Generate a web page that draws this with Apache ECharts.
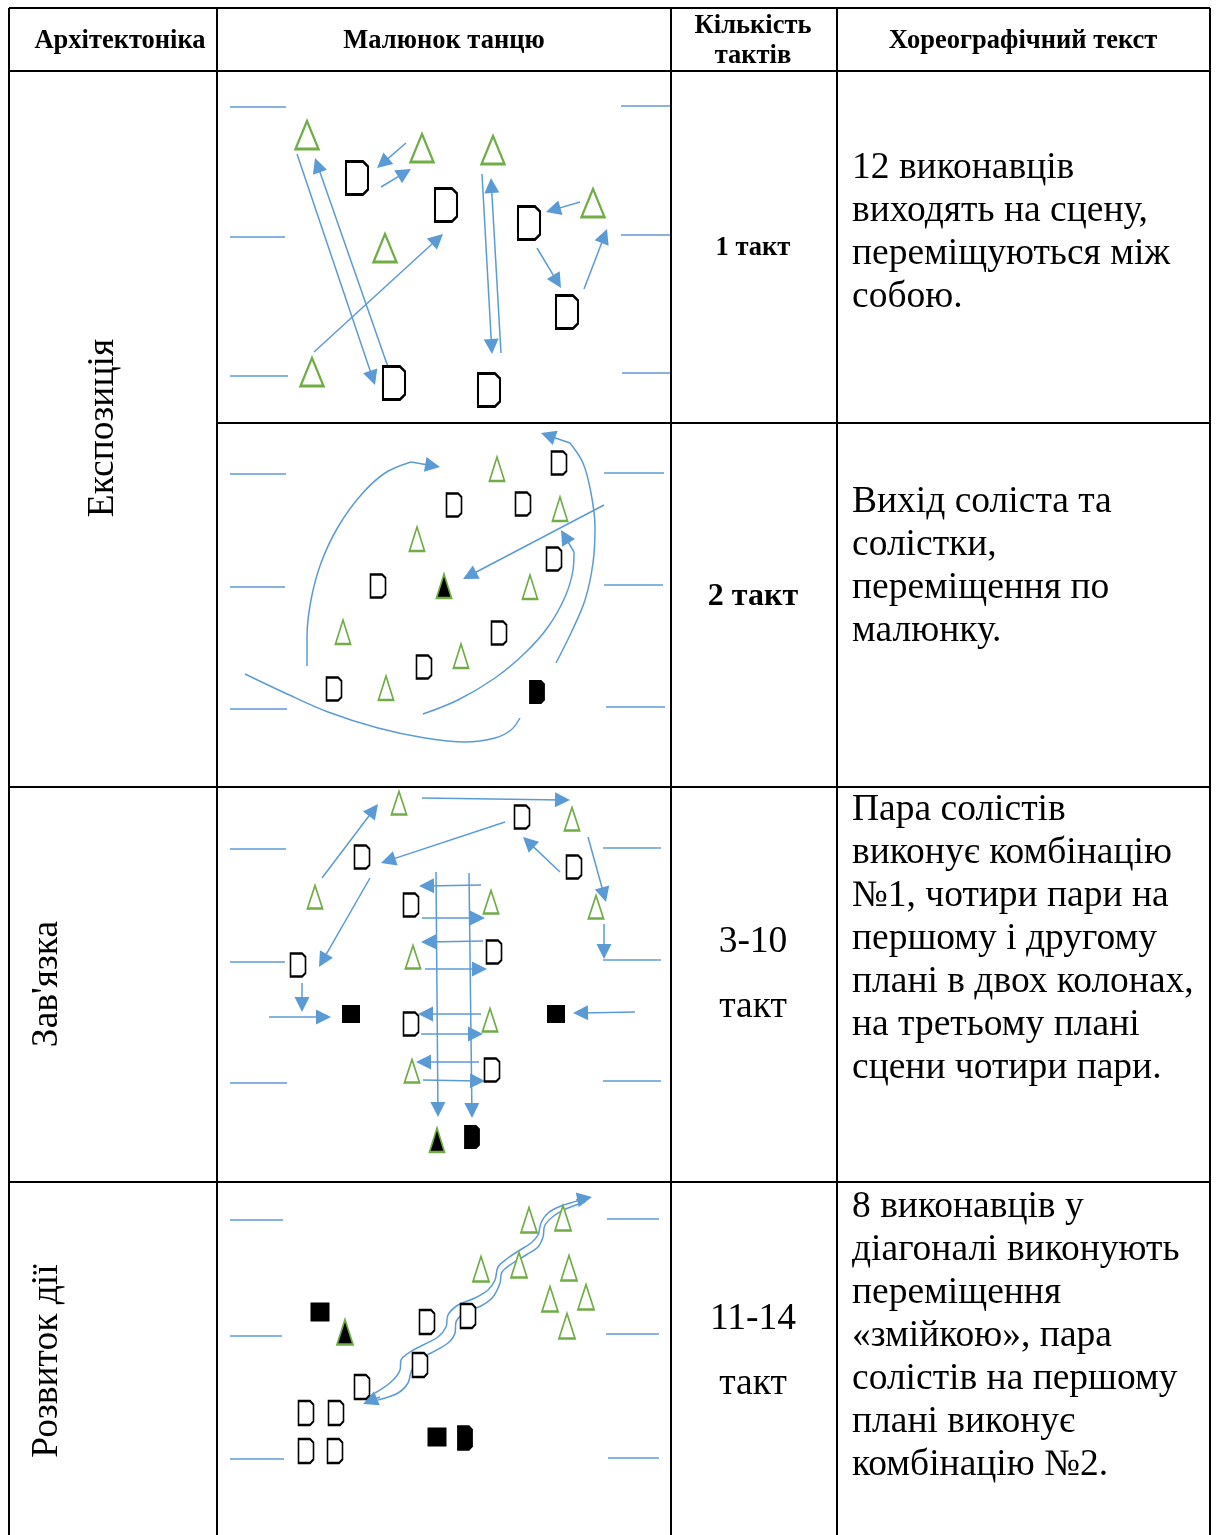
<!DOCTYPE html>
<html><head><meta charset="utf-8">
<script src="https://cdn.jsdelivr.net/npm/echarts@6/dist/echarts.min.js"></script>
<style>html,body{margin:0;padding:0;background:#fff}#main{width:1216px;height:1535px}</style>
</head><body><div id="main"></div>
<script>
// ---------- text content ----------
const headers = ['Архітектоніка', 'Малюнок танцю', 'Кількість\nтактів', 'Хореографічний текст'];
const sections = ['Експозиція', "Зав'язка", 'Розвиток дії'];
const bars = ['1 такт', '2 такт', '3-10\nтакт', '11-14\nтакт'];
const descriptions = [
  ['12 виконавців', 'виходять на сцену,', 'переміщуються між', 'собою.'],
  ['Вихід соліста та', 'солістки,', 'переміщення по', 'малюнку.'],
  ['Пара солістів', 'виконує комбінацію', '№1, чотири пари на', 'першому і другому', 'плані в двох колонах,', 'на третьому плані', 'сцени чотири пари.'],
  ['8 виконавців у', 'діагоналі виконують', 'переміщення', '«змійкою», пара', 'солістів на першому', 'плані виконує', 'комбінацію №2.']
];

// ---------- stage diagram data (stage coordinates) ----------
// cell 1
const c1Girls = [[307,135],[422,148],[493,150],[385,248],[593,203],[312,372]];
const c1Boys = [[357,178],[446,205],[529,223],[567,312],[394,383],[489,390]];
const c1Moves = [
  [[297,154],[375,385]], [[388,367],[315,158]], [[406,143],[377,168]], [[381,187],[411,169]],
  [[314,352],[443,234]], [[482,174],[492,354]], [[501,353],[491,178]], [[580,202],[546,212]],
  [[537,248],[561,288]], [[584,289],[607,229]]
];
const c1Wings = [[230,286,107],[230,285,237],[230,288,376],[621,670,106],[621,670,235],[622,670,373]];

// cell 2
const c2Girls = [[497,469],[560,509],[417,539],[530,587],[343,632],[461,656],[386,688]];
const c2Boys = [[559,463],[454,505],[523,504],[554,559],[378,586],[499,633],[424,667],[334,689]];
const c2SoloGirl = [[444,586]];
const c2SoloBoy = [[537,692]];
const c2Moves = [[[604,505],[463,579]]];
const c2Paths = [
  [[307,666],[307,637],[311,600],[321,563],[338,527],[361,495],[385,473],[411,462],[440,467]],
  [[423,714],[458,700],[495,678],[525,653],[548,627],[565,597],[573,570],[574,552],[561,530]],
  [[556,663],[571,633],[585,600],[593,563],[595,527],[591,493],[583,463],[570,443],[541,433]]
];
const c2OpenPaths = [
  [[245,674],[285,693],[328,712],[378,728],[425,738],[465,742],[495,738],[511,730],[520,718]]
];
const c2Wings = [[230,286,474],[230,285,587],[230,287,709],[604,664,473],[604,663,585],[606,665,707]];

// cell 3
const c3Girls = [[399,803],[572,819],[315,897],[491,902],[596,907],[413,957],[490,1020],[412,1071]];
const c3Boys = [[522,817],[362,857],[574,867],[411,905],[494,952],[298,965],[411,1024],[492,1070]];
const c3SoloGirl = [[437,1140]];
const c3SoloBoy = [[472,1137]];
const c3Pairs = [[351,1014],[556,1014]];
const c3Moves = [
  [[322,878],[378,804]], [[422,798],[570,800]], [[505,822],[381,863]], [[560,872],[523,837]],
  [[588,837],[606,902]], [[604,924],[604,959]], [[370,878],[319,967]], [[302,983],[302,1012]],
  [[269,1017],[331,1017]], [[635,1012],[573,1013]], [[436,872],[438,1117]], [[469,873],[472,1118]],
  [[481,885],[419,886]], [[422,918],[485,918]], [[483,941],[421,942]], [[425,969],[487,969]],
  [[481,1014],[418,1014]], [[421,1034],[483,1034]], [[479,1062],[416,1062]], [[423,1080],[485,1081]]
];
const c3Wings = [[230,286,849],[230,285,962],[230,287,1083],[603,661,848],[603,661,960],[603,661,1081]];

// cell 4
const c4Girls = [[529,1220],[563,1218],[481,1269],[519,1265],[569,1268],[550,1299],[586,1297],[567,1326]];
const c4Boys = [[427,1322],[468,1316],[420,1365],[362,1387],[306,1413],[336,1413],[306,1451],[335,1451]];
const c4SoloGirl = [[345,1332]];
const c4SoloBoy = [[465,1438]];
const c4Pairs = [[320,1312],[437,1437]];
const c4Snake = [
  [[375,1393],[391,1382],[400,1370],[401,1360],[410,1352],[423,1345],[438,1337],[446,1327],[448,1315],[458,1305],[475,1298],[488,1290],[495,1280],[498,1267],[508,1258],[520,1250],[531,1243],[538,1235],[541,1223],[548,1213],[561,1206],[581,1200]],
  [[378,1400],[398,1393],[408,1383],[411,1372],[418,1360],[431,1353],[448,1343],[455,1333],[456,1322],[466,1312],[481,1306],[493,1297],[500,1283],[502,1272],[513,1263],[526,1255],[538,1247],[543,1237],[545,1225],[555,1215],[568,1208],[585,1202]]
];
const c4Moves = [[[380,1397],[363,1404]], [[576,1200],[592,1197]]];
const c4Wings = [[230,283,1220],[230,282,1336],[230,284,1459],[607,659,1219],[606,659,1334],[608,659,1458]];

// ---------- layout (table frame) ----------
const X = {left: 9, c1: 217, c2: 671, c3: 837, right: 1210};
const Y = {top: 8, head: 71, r1: 423, r2: 787, r3: 1182, bottom: 1535};

const BLUE = '#5B9BD5', GREEN = '#70AD47';
const SERIF = '"Liberation Serif", "Times New Roman", serif';
const BOY = 'path://M0,0 L17,0 L22,5 L22,28 L17,33 L0,33 Z';

function arrows(list, head) {
  return list.map(function (seg) {
    const a = seg[0], b = seg[1];
    const dx = b[0] - a[0], dy = b[1] - a[1], L = Math.hypot(dx, dy), k = (head / 2) / L;
    return {coords: [a, [b[0] - dx * k, b[1] - dy * k]]};
  });
}
function pathArrows(paths, head) {
  return arrows(paths.map(function (p) { return [p[p.length - 2], p[p.length - 1]]; }), head);
}
function wings(list) { return list.map(function (w) { return {coords: [[w[0], w[2]], [w[1], w[2]]]}; }); }

const rules = [
  [[X.left, Y.top], [X.right, Y.top]], [[X.left, Y.head], [X.right, Y.head]],
  [[X.c1, Y.r1], [X.right, Y.r1]], [[X.left, Y.r2], [X.right, Y.r2]], [[X.left, Y.r3], [X.right, Y.r3]],
  [[X.left, Y.top], [X.left, Y.bottom]], [[X.c1, Y.top], [X.c1, Y.bottom]],
  [[X.c2, Y.top], [X.c2, Y.bottom]], [[X.c3, Y.top], [X.c3, Y.bottom]], [[X.right, Y.top], [X.right, Y.bottom]]
].map(function (r) { return {coords: r}; });

const series = [];
series.push({type: 'lines', coordinateSystem: 'cartesian2d', z: 1, silent: true, symbol: 'none',
  lineStyle: {color: '#000', width: 2, opacity: 1}, data: rules});
series.push({type: 'lines', coordinateSystem: 'cartesian2d', z: 2, silent: true, symbol: 'none',
  lineStyle: {color: BLUE, width: 1.5, opacity: 1},
  data: [].concat(wings(c1Wings), wings(c2Wings), wings(c3Wings), wings(c4Wings))});
function arrowSeries(data, size) {
  return {type: 'lines', coordinateSystem: 'cartesian2d', z: 3, silent: true,
    symbol: ['none', 'triangle'], symbolSize: size,
    itemStyle: {color: BLUE}, lineStyle: {color: BLUE, width: 1.5, opacity: 1}, data: data};
}
series.push(arrowSeries(arrows(c1Moves, 15), 15));
series.push(arrowSeries(arrows(c2Moves, 15), 15));
series.push(arrowSeries(pathArrows(c2Paths, 15), 15));
series.push(arrowSeries(arrows(c3Moves, 15), 15));
series.push(arrowSeries(arrows(c4Moves, 15), 15));
function curve(pts, isFull) {
  return {type: 'line', data: isFull ? pts : pts.slice(0, pts.length - 1), smooth: 0.35, symbol: 'none',
    showSymbol: false, z: 3, silent: true, lineStyle: {color: BLUE, width: 1.5}};
}
c2Paths.forEach(function (p) { series.push(curve(p, false)); });
c2OpenPaths.forEach(function (p) { series.push(curve(p, true)); });
c4Snake.forEach(function (p) { series.push(curve(p, true)); });

function marks(data, symbol, size, fill, border, bw) {
  return {type: 'scatter', data: data, symbol: symbol, symbolSize: size, z: 5, silent: true,
    itemStyle: {color: fill, borderColor: border, borderWidth: bw, opacity: 1}};
}
series.push(marks(c1Girls, 'triangle', [23, 28], '#fff', GREEN, 2.5));
series.push(marks(c1Boys, BOY, [22, 33], '#fff', '#000', 2.5));
series.push(marks(c2Girls, 'triangle', [15, 24], '#fff', GREEN, 2));
series.push(marks(c2Boys, BOY, [15, 23], '#fff', '#000', 2));
series.push(marks(c2SoloGirl, 'triangle', [15, 24], '#000', GREEN, 2));
series.push(marks(c2SoloBoy, BOY, [15, 23], '#000', '#000', 1));
series.push(marks(c3Girls, 'triangle', [15, 23], '#fff', GREEN, 2));
series.push(marks(c3Boys, BOY, [15, 23], '#fff', '#000', 2));
series.push(marks(c3SoloGirl, 'triangle', [15, 24], '#000', GREEN, 2));
series.push(marks(c3SoloBoy, BOY, [15, 23], '#000', '#000', 1));
series.push(marks(c3Pairs, 'rect', 18, '#000', '#000', 0));
series.push(marks(c4Girls, 'triangle', [16, 25], '#fff', GREEN, 2));
series.push(marks(c4Boys, BOY, [15, 24], '#fff', '#000', 2));
series.push(marks(c4SoloGirl, 'triangle', [16, 25], '#000', GREEN, 2));
series.push(marks(c4SoloBoy, BOY, [15, 24], '#000', '#000', 1));
series.push(marks(c4Pairs, 'rect', 19, '#000', '#000', 0));

// ---------- text ----------
const graphic = [];
const headPos = [[120, 41], [444, 41], [753, 41], [1023, 41]];
headers.forEach(function (t, i) {
  graphic.push({type: 'text', x: headPos[i][0], y: headPos[i][1], silent: true,
    style: {text: t, font: 'bold 26.5px ' + SERIF, fill: '#000', align: 'center', verticalAlign: 'middle', lineHeight: 30}});
});
const secPos = [[103, 428], [47, 984], [47, 1361]];
sections.forEach(function (t, i) {
  graphic.push({type: 'text', x: secPos[i][0], y: secPos[i][1], rotation: Math.PI / 2, silent: true,
    style: {text: t, font: '37.5px ' + SERIF, fill: '#000', align: 'center', verticalAlign: 'middle'}});
});
const barPos = [[753, 248], [753, 597], [753, 975], [753, 1352]];
const barFont = ['bold 26.5px ', 'bold 32px ', '37.5px ', '37.5px '];
bars.forEach(function (t, i) {
  graphic.push({type: 'text', x: barPos[i][0], y: barPos[i][1], silent: true,
    style: {text: t, font: barFont[i] + SERIF, fill: '#000', align: 'center', verticalAlign: 'middle', lineHeight: 65}});
});
const descTop = [168, 502, 810, 1207];
descriptions.forEach(function (lines, i) {
  graphic.push({type: 'text', x: 852, y: descTop[i] - 21.5, silent: true,
    style: {text: lines.join('\n'), font: '37.5px ' + SERIF, fill: '#000', align: 'left', verticalAlign: 'top', lineHeight: 43}});
});

const chart = echarts.init(document.getElementById('main'), null, {renderer: 'canvas'});
chart.setOption({
  animation: false,
  backgroundColor: '#fff',
  grid: {left: 0, right: 0, top: 0, bottom: 0, containLabel: false},
  xAxis: {type: 'value', min: 0, max: 1216, show: false},
  yAxis: {type: 'value', min: 0, max: 1535, inverse: true, show: false},
  series: series,
  graphic: graphic
});
</script></body></html>
